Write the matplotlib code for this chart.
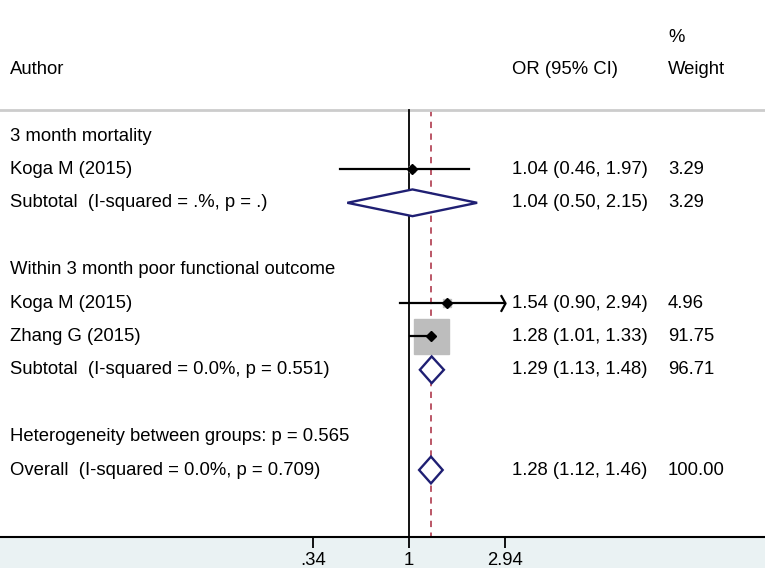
import numpy as np
import matplotlib
matplotlib.use("Agg")
import matplotlib.pyplot as plt
from matplotlib.path import Path

plt.rcParams['font.family'] = ['Liberation Sans', 'DejaVu Sans']

# study rows
study_labels = ["Koga M (2015)", "Koga M (2015)", "Zhang G (2015)"]
study_rows = [1, 5, 6]
study_or = [1.04, 1.54, 1.28]
study_lo = [0.46, 0.90, 1.01]
study_hi = [1.97, 2.94, 1.33]
study_wt = [3.29, 4.96, 91.75]

# pooled rows (subtotals + overall)
pool_labels = ["Subtotal  (I-squared = .%, p = .)",
               "Subtotal  (I-squared = 0.0%, p = 0.551)",
               "Overall  (I-squared = 0.0%, p = 0.709)"]
pool_rows = [2, 7, 10]
pool_or = [1.04, 1.29, 1.28]
pool_lo = [0.50, 1.13, 1.12]
pool_hi = [2.15, 1.48, 1.46]
pool_wt = [3.29, 96.71, 100.00]

group_labels = ["3 month mortality", "Within 3 month poor functional outcome",
                "Heterogeneity between groups: p = 0.565"]
group_rows = [0, 4, 9]

tick_vals = [0.34, 1, 2.94]
tick_text = [".34", "1", "2.94"]
overall_or = 1.28

W, H = 765, 568
fig = plt.figure(figsize=(W / 100, H / 100), dpi=100, facecolor="#eaf2f3")
ax = fig.add_axes([0, 31 / H, 1, 537 / H], facecolor="white")
ax.set_xscale("log")
ax.set_xlim(np.exp(-409 / 89), np.exp(356 / 89))
ax.set_ylim(12.006, -4.072)

fs = 13.3
for s in ["top", "left", "right"]:
    ax.spines[s].set_visible(False)
ax.spines["bottom"].set_linewidth(1.5)
ax.set_yticks([])
ax.set_xticks(tick_vals)
ax.set_xticklabels(tick_text, fontsize=fs)
ax.minorticks_off()
ax.tick_params(axis="x", length=8, width=1.3, pad=3)

tr = ax.get_yaxis_transform()
x_lab, x_or, x_wt = 10 / W, 512 / W, 668 / W

# header
ax.text(x_lab, -2, "Author", transform=tr, va="center", fontsize=fs)
ax.text(x_or, -2, "OR (95% CI)", transform=tr, va="center", fontsize=fs)
ax.text(x_wt, -2, "Weight", transform=tr, va="center", fontsize=fs)
ax.text(x_wt, -2.96, "%", transform=tr, va="center", fontsize=fs)
ax.axhline(-0.78, color="#cccccc", lw=2)

# reference lines
ax.plot([1, 1], [-0.78, 12.006], color="black", lw=1.3, zorder=2)
ax.plot([overall_or, overall_or], [-0.78, 12.006], color="#b5495b", lw=1.3,
        ls=(0, (3.5, 3)), zorder=1)

for lab, r in zip(group_labels, group_rows):
    ax.text(x_lab, r, lab, transform=tr, va="center", fontsize=fs)

chevron = Path([(-0.55, 1), (0, 0), (-0.55, -1)],
               [Path.MOVETO, Path.LINETO, Path.LINETO])
xmax_tick = tick_vals[-1]
for lab, r, o, lo, hi, w in zip(study_labels, study_rows, study_or,
                                study_lo, study_hi, study_wt):
    ax.plot(o, r, marker="s", ms=25.2 * np.sqrt(w / 91.75), color="#bdbdbd",
            mec="#bdbdbd", zorder=3)
    ax.plot([lo, hi], [r, r], color="black", lw=1.6, zorder=4)
    if hi >= xmax_tick:
        ax.plot(hi, r, marker=chevron, ms=12, mfc="none", mec="black",
                mew=1.6, zorder=4)
    ax.plot(o, r, marker="D", ms=5, color="black", zorder=5)
    ax.text(x_lab, r, lab, transform=tr, va="center", fontsize=fs)
    ax.text(x_or, r, f"{o:.2f} ({lo:.2f}, {hi:.2f})", transform=tr,
            va="center", fontsize=fs)
    ax.text(x_wt, r, f"{w:.2f}", transform=tr, va="center", fontsize=fs)

for lab, r, o, lo, hi, w in zip(pool_labels, pool_rows, pool_or,
                                pool_lo, pool_hi, pool_wt):
    ax.fill([lo, o, hi, o], [r, r - 0.4, r, r + 0.4], facecolor="white",
            edgecolor="#1f1f73", lw=1.7, zorder=6)
    ax.text(x_lab, r, lab, transform=tr, va="center", fontsize=fs)
    ax.text(x_or, r, f"{o:.2f} ({lo:.2f}, {hi:.2f})", transform=tr,
            va="center", fontsize=fs)
    ax.text(x_wt, r, f"{w:.2f}", transform=tr, va="center", fontsize=fs)

fig.savefig("out.png", dpi=100, facecolor=fig.get_facecolor())
